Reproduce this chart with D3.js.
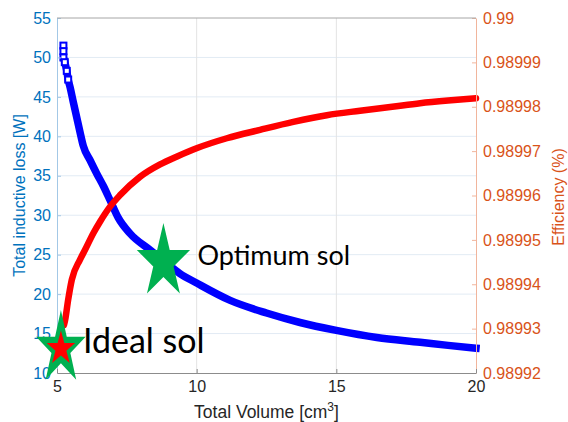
<!DOCTYPE html>
<html>
<head>
<meta charset="utf-8">
<script src="https://cdn.jsdelivr.net/npm/d3@7"></script>
<style>
  html, body { margin: 0; padding: 0; background: #fff; }
  svg { display: block; }
  text { font-family: "Liberation Sans", Arial, Helvetica, sans-serif; }
</style>
</head>
<body>
<svg id="chart" width="568" height="422"></svg>
<script>
// Total inductive loss [W] versus total volume [cm^3]
const lossVolume = [5.23, 5.23, 5.23, 5.28, 5.35, 5.40, 5.47, 5.58, 5.70, 5.82, 5.94, 6.18, 6.42, 6.66, 6.90, 7.19, 7.61, 8.33, 8.80, 9.40, 10.0, 11.2, 12.5, 13.7, 15.0, 16.45, 18.0, 19.0, 20.0];
const lossW      = [51.5, 50.8, 50.0, 49.4, 48.3, 47.2, 46.2, 44.4, 42.5, 40.6, 38.8, 37.0, 35.3, 33.7, 31.9, 29.7, 27.7, 25.6, 24.3, 22.6, 21.4, 19.2, 17.6, 16.4, 15.4, 14.5, 13.9, 13.5, 13.15];

// Efficiency versus total volume [cm^3]
const effVolume = [5.25, 5.29, 5.40, 5.53, 5.82, 6.00, 6.30, 6.54, 6.90, 7.26, 7.97, 8.69, 9.30, 10.02, 11.08, 12.27, 13.46, 14.66, 15.85, 17.0, 18.0, 19.0, 20.0];
const effValue  = [0.9899308, 0.9899319, 0.9899365, 0.9899410, 0.9899455, 0.9899477, 0.9899515, 0.9899541, 0.9899575, 0.9899601, 0.9899642, 0.9899670, 0.9899688, 0.9899707, 0.9899729, 0.9899748, 0.9899766, 0.9899781, 0.9899791, 0.9899800, 0.9899808, 0.9899814, 0.9899819];

// Axis ticks
const xTicks = [5, 10, 15, 20];
const lossTicks = [10, 15, 20, 25, 30, 35, 40, 45, 50, 55];
const effTicks = [0.98992, 0.98993, 0.98994, 0.98995, 0.98996, 0.98997, 0.98998, 0.98999, 0.99];

// Highlighted solutions: [volume, loss]
const solutionNames = ["Ideal sol", "Optimum sol"];
const solutionVolume = [5.14, 8.81];
const solutionLoss = [13.1, 24.07];

const svg = d3.select("#chart");
const pL = 57, pR = 476, pT = 18, pB = 373;

const x = d3.scaleLinear().domain([5, 20]).range([pL, pR]);
const yL = d3.scaleLinear().domain([10, 55]).range([pB, pT]);
const yR = d3.scaleLinear().domain([0.98992, 0.99]).range([pB, pT]);

const blueAxis = "#0072BD", orangeAxis = "#D95319", textDark = "#262626";

// grid
const grid = svg.append("g");
grid.selectAll("line.h").data(lossTicks.slice(1, -1)).enter().append("line")
  .attr("x1", pL).attr("x2", pR)
  .attr("y1", d => yL(d)).attr("y2", d => yL(d))
  .attr("stroke", "#e2ebf4").attr("stroke-width", 1);
grid.selectAll("line.v").data(xTicks.slice(1, -1)).enter().append("line")
  .attr("y1", pT).attr("y2", pB)
  .attr("x1", d => x(d)).attr("x2", d => x(d))
  .attr("stroke", "#e3e3e3").attr("stroke-width", 1);

// curves
const lossPts = lossVolume.map((v, i) => [v, lossW[i]]);
const effPts = effVolume.map((v, i) => [v, effValue[i]]);

svg.append("path")
  .attr("d", d3.line().x(d => x(d[0])).y(d => yL(d[1])).curve(d3.curveMonotoneX)(lossPts.slice(3)))
  .attr("fill", "none").attr("stroke", "#0000ff").attr("stroke-width", 7.5)
  .attr("stroke-linecap", "square").attr("stroke-linejoin", "round");

svg.selectAll("rect.loss").data(lossPts.slice(0, 6)).enter().append("rect")
  .attr("x", d => x(d[0]) - 3).attr("y", d => yL(d[1]) - 3)
  .attr("width", 6).attr("height", 6)
  .attr("fill", "#ffffff").attr("stroke", "#0000ff").attr("stroke-width", 2);

svg.append("path")
  .attr("d", d3.line().x(d => x(d[0])).y(d => yR(d[1])).curve(d3.curveMonotoneX)(effPts))
  .attr("fill", "none").attr("stroke", "#ff0000").attr("stroke-width", 6.5)
  .attr("stroke-linecap", "round").attr("stroke-linejoin", "round");

// axes
const axL = d3.axisLeft(yL).tickValues(lossTicks).tickSizeInner(-4).tickSizeOuter(0).tickPadding(6);
const gL = svg.append("g").attr("transform", `translate(${pL},0)`).call(axL);
gL.select(".domain").attr("stroke", "#a3c8e6");
gL.selectAll(".tick line").attr("stroke", "#a3c8e6");
gL.selectAll(".tick text").attr("fill", blueAxis).style("font-size", "16px");

const axR = d3.axisRight(yR).tickValues(effTicks).tickSizeInner(-4).tickSizeOuter(0).tickPadding(7)
  .tickFormat(d => String(+d.toFixed(5)));
const gR = svg.append("g").attr("transform", `translate(${pR},0)`).call(axR);
gR.select(".domain").attr("stroke", "#f1b59c");
gR.selectAll(".tick line").attr("stroke", "#f1b59c");
gR.selectAll(".tick text").attr("fill", orangeAxis).style("font-size", "16px");

const axB = d3.axisBottom(x).tickValues(xTicks).tickSizeInner(-4).tickSizeOuter(0).tickPadding(8);
const gB = svg.append("g").attr("transform", `translate(0,${pB})`).call(axB);
gB.select(".domain").attr("stroke", "#8c8c8c");
gB.selectAll(".tick line").attr("stroke", "#8c8c8c");
gB.selectAll(".tick text").attr("fill", textDark).style("font-size", "16px");

svg.append("line").attr("x1", pL).attr("x2", pR).attr("y1", pT).attr("y2", pT)
  .attr("stroke", "#a6a6a6");

// axis titles
const xt = svg.append("text").attr("x", (pL + pR) / 2).attr("y", 418)
  .attr("text-anchor", "middle").attr("fill", textDark).style("font-size", "17.5px");
xt.append("tspan").text("Total Volume [cm");
xt.append("tspan").attr("dy", -7).style("font-size", "12px").text("3");
xt.append("tspan").attr("dy", 7).text("]");

svg.append("text")
  .attr("transform", `translate(25,${(pT + pB) / 2}) rotate(-90)`)
  .attr("text-anchor", "middle").attr("fill", blueAxis).style("font-size", "16px")
  .text("Total inductive loss [W]");

svg.append("text")
  .attr("transform", `translate(564,197) rotate(-90)`)
  .attr("text-anchor", "middle").attr("fill", orangeAxis).style("font-size", "16px")
  .text("Efficiency (%)");

// star markers
function starPath(cx, cy, rx, ry) {
  const pts = [];
  for (let i = 0; i < 10; i++) {
    const a = -Math.PI / 2 + i * Math.PI / 5;
    const r = i % 2 === 0 ? 1 : 0.382;
    pts.push([cx + Math.cos(a) * rx * r, cy + Math.sin(a) * ry * r]);
  }
  return "M" + pts.map(p => p.join(",")).join("L") + "Z";
}

const green = "#00b050";
// Ideal solution: green star with red centre
svg.append("path").attr("d", starPath(x(solutionVolume[0]), yL(solutionLoss[0]), 26, 38.5)).attr("fill", green);
svg.append("path").attr("d", starPath(x(solutionVolume[0]), yL(solutionLoss[0]), 15, 18)).attr("fill", "#ff0000");
// Optimum solution
svg.append("path").attr("d", starPath(x(solutionVolume[1]), yL(solutionLoss[1]), 28, 39)).attr("fill", green);

svg.append("text").attr("x", x(solutionVolume[0]) + 22).attr("y", 353)
  .style("font-family", "Lato, 'Open Sans', sans-serif").style("font-size", "34px")
  .attr("fill", "#000").text(solutionNames[0]);
svg.append("text").attr("x", x(solutionVolume[1]) + 34).attr("y", 265)
  .style("font-family", "Lato, 'Open Sans', sans-serif").style("font-size", "27px")
  .attr("fill", "#000").text(solutionNames[1]);
</script>
</body>
</html>
